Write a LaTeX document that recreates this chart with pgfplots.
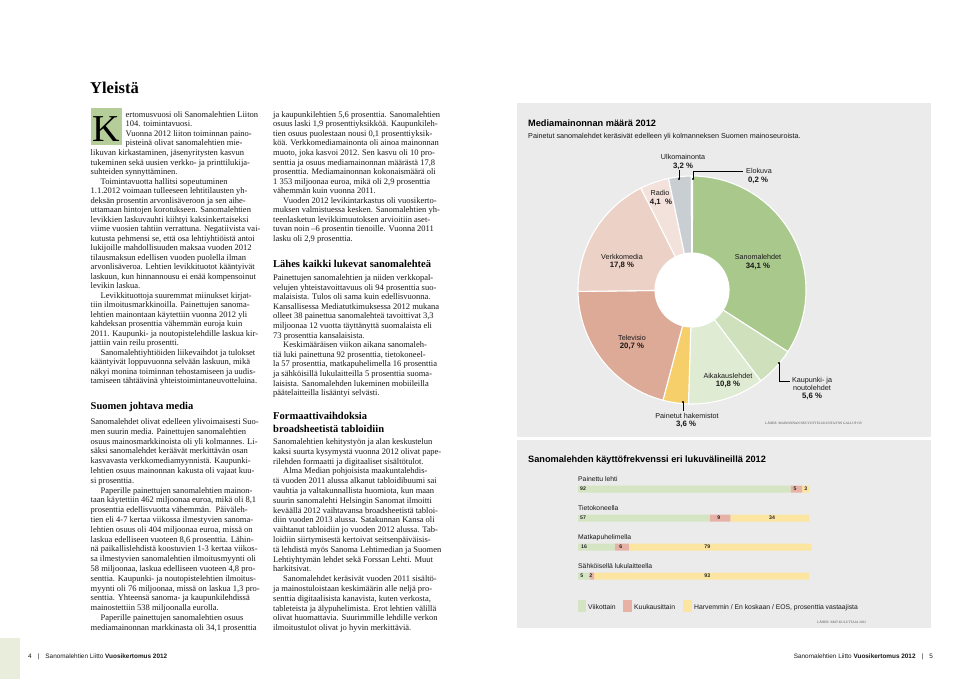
\documentclass[border=0pt]{standalone}
\usepackage{fontspec}
\setmainfont{Liberation Serif}
\newfontfamily\chartfont{Liberation Sans}
\usepackage{pgfplots}
\pgfplotsset{compat=1.18}
\usepackage{pgfplotstable}

\definecolor{panel}{HTML}{EBEBEB}
\definecolor{txt}{HTML}{1A1718}
\definecolor{dropgreen}{HTML}{B5CD98}
\definecolor{deco}{HTML}{E9EEDC}
\definecolor{c0}{HTML}{A9C98C}
\definecolor{c1}{HTML}{CFE0BD}
\definecolor{c2}{HTML}{E0EBD3}
\definecolor{c3}{HTML}{F6CF6B}
\definecolor{c4}{HTML}{DCAA97}
\definecolor{c5}{HTML}{ECD2C6}
\definecolor{c6}{HTML}{F3E2DC}
\definecolor{c7}{HTML}{C9CED3}
\definecolor{c8}{HTML}{666666}
\definecolor{colW}{HTML}{D5E5C3}
\definecolor{colM}{HTML}{E7B1A6}
\definecolor{colY}{HTML}{FBE5A0}

\pgfplotstableread{
label value
Sanomalehdet 34.1
Kaupunki 5.6
Aikakauslehdet 10.8
Hakemistot 3.6
Televisio 20.7
Verkkomedia 17.8
Radio 4.1
Ulkomainonta 3.2
Elokuva 0.2
}\mediadata

\pgfplotstableread{
y vk kk hv
1 92 5 3
2 57 9 34
3 16 6 79
4 5 2 93
}\freqdata

\pgfplotstableread{
x y lab
2.2 1 92
94 1 5
98.6 1 3
2.2 2 57
61 2 9
84 2 34
2.6 3 16
18.5 3 6
56 3 79
1.6 4 5
5.5 4 2
56 4 93
}\freqlabels

\newcommand\bodyfont{\fontsize{8.5}{9.5}\selectfont}
\newcommand\headfont{\fontsize{10.5}{12}\selectfont\bfseries}
\newcommand\tb[4]{\foreach \t [count=\i from 0] in {#4}{\node[anchor=base west, inner sep=0pt, font=\bodyfont, text=txt] at (#1pt,{-(#2+\i*#3)*1pt}) {\t};}}
\newcommand\lab[3]{\node[anchor=center, inner sep=0pt, font=\chartfont\fontsize{7.2}{8}\selectfont, text=txt] at (#1pt,-#2pt) {#3};}
\newcommand\pct[3]{\node[anchor=center, inner sep=0pt, font=\chartfont\bfseries\fontsize{7.8}{8}\selectfont, text=txt] at (#1pt,-#2pt) {#3};}

\begin{document}
\begin{tikzpicture}
\path[use as bounding box] (0,0) rectangle (960pt,-679pt);
\fill[white] (0,0) rectangle (960pt,-679pt);
\fill[deco] (0,-638pt) rectangle (20pt,-679pt);

% ---------- chart panels
\fill[panel] (517pt,-103pt) rectangle (931pt,-437pt);
\fill[panel] (517pt,-440pt) rectangle (931pt,-628pt);

% ---------- donut angles from the table
\def\cum{0}
\foreach \k in {0,...,8}{%
  \pgfplotstablegetelem{\k}{value}\of\mediadata
  \pgfmathsetmacro\tmpb{\cum+3.6*\pgfplotsretval}%
  \expandafter\xdef\csname sa\k\endcsname{\cum}%
  \expandafter\xdef\csname sb\k\endcsname{\tmpb}%
  \xdef\cum{\tmpb}%
}

\begin{axis}[hide axis, x=1pt, y=1pt, xmin=-120, xmax=120, ymin=-120, ymax=120,
  anchor=center, at={(692pt,-290pt)}, clip=false]
\pgfplotsinvokeforeach{0,...,8}{%
  \edef\doslice{\noexpand\filldraw[fill=c#1, draw=white, line width=1.1pt, shift={(axis cs:0,0)}]
   ({90-\csname sa#1\endcsname}:114pt) arc[start angle={90-\csname sa#1\endcsname}, end angle={90-\csname sb#1\endcsname}, radius=114pt]
   -- ({90-\csname sb#1\endcsname}:37pt) arc[start angle={90-\csname sb#1\endcsname}, end angle={90-\csname sa#1\endcsname}, radius=37pt] -- cycle;}%
  \doslice
}
\fill[white] (axis cs:0,0) circle[radius=37pt];
\end{axis}

% donut texts
\node[anchor=base west, inner sep=0pt, font=\chartfont\bfseries\fontsize{9.2}{11}\selectfont, text=black] at (528pt,-126.5pt) {Mediamainonnan määrä 2012};
\node[anchor=base west, inner sep=0pt, font=\chartfont\fontsize{7.2}{8}\selectfont, text=txt] at (528pt,-138.5pt) {Painetut sanomalehdet keräsivät edelleen yli kolmanneksen Suomen mainoseuroista.};
\lab{683}{157}{Ulkomainonta}\pct{683}{166}{3,2 \%}
\lab{759}{171}{Elokuva}\pct{758}{180}{0,2 \%}
\lab{660}{193}{Radio}\pct{661}{202}{4,1\ \ \%}
\lab{622}{257}{Verkkomedia}\pct{622}{265}{17,8 \%}
\lab{758}{257}{Sanomalehdet}\pct{758}{266}{34,1 \%}
\lab{632}{338}{Televisio}\pct{632}{346}{20,7 \%}
\lab{728}{376}{Aikakauslehdet}\pct{728}{384}{10,8 \%}
\lab{812}{381}{Kaupunki- ja}\lab{812}{388}{noutolehdet}\pct{812}{396}{5,6 \%}
\lab{687}{416}{Painetut hakemistot}\pct{686}{424}{3,6 \%}
% leader lines
\draw[black, line width=0.5pt] (679pt,-170pt) -- (679pt,-179pt);
\fill[black] (679pt,-179pt) circle[radius=1.1pt];
\draw[black, line width=0.5pt] (693pt,-179pt) -- (693pt,-171pt) -- (743pt,-171pt);
\fill[black] (693pt,-179pt) circle[radius=1.1pt];
\draw[black, line width=0.5pt] (779pt,-363pt) -- (779pt,-381pt) -- (790pt,-381pt);
\fill[black] (779pt,-363pt) circle[radius=1.1pt];
\draw[black, line width=0.5pt] (683pt,-402pt) -- (683pt,-411pt);
\fill[black] (683pt,-402pt) circle[radius=1.1pt];
\node[anchor=west, inner sep=0pt, font=\fontsize{3.4}{4}\selectfont, text=black!70] at (765pt,-423pt) {LÄHDE: MAINONNAN NEUVOTTELUKUNTA/TNS GALLUP OY};

% ---------- bar chart
\node[anchor=base west, inner sep=0pt, font=\chartfont\bfseries\fontsize{9.2}{11}\selectfont, text=black] at (528pt,-462pt) {Sanomalehden käyttöfrekvenssi eri lukuvälineillä 2012};
\begin{axis}[hide axis, xbar stacked, bar width=7pt, x=2.31pt, y=29pt, y dir=reverse,
  xmin=0, xmax=100, ymin=0.5, ymax=4.5, enlargelimits=false, clip=false,
  anchor=north west, at={(578pt,-474.5pt)}]
\addplot[fill=colW, draw=none] table[x=vk, y=y] {\freqdata};
\addplot[fill=colM, draw=none] table[x=kk, y=y] {\freqdata};
\addplot[fill=colY, draw=none] table[x=hv, y=y] {\freqdata};
\end{axis}
\begin{axis}[hide axis, x=2.31pt, y=29pt, y dir=reverse,
  xmin=0, xmax=100, ymin=0.5, ymax=4.5, enlargelimits=false, clip=false,
  anchor=north west, at={(578pt,-474.5pt)}]
\addplot[draw=none, mark=none, nodes near coords, point meta=explicit symbolic,
  every node near coord/.append style={anchor=center, inner sep=0pt, text=black!85,
  font=\chartfont\bfseries\fontsize{5.2}{6}\selectfont}]
  table[x=x, y=y, meta=lab] {\freqlabels};
\end{axis}
\foreach \n/\yy in {Painettu lehti/481.5, Tietokoneella/510.5, Matkapuhelimella/539.5, Sähköisellä lukulaitteella/568.5}{
  \node[anchor=base west, inner sep=0pt, font=\chartfont\fontsize{6.8}{8}\selectfont, text=txt] at (578pt,-\yy pt) {\n};}
\fill[colW] (578pt,-600pt) rectangle (586pt,-612pt);
\fill[colM] (623pt,-600pt) rectangle (632pt,-612pt);
\fill[colY] (683pt,-600pt) rectangle (692pt,-612pt);
\node[anchor=base west, inner sep=0pt, font=\chartfont\fontsize{6.8}{8}\selectfont, text=txt] at (588pt,-609pt) {Viikottain};
\node[anchor=base west, inner sep=0pt, font=\chartfont\fontsize{6.8}{8}\selectfont, text=txt] at (634pt,-609pt) {Kuukausittain};
\node[anchor=base west, inner sep=0pt, font=\chartfont\fontsize{6.8}{8}\selectfont, text=txt] at (694pt,-609pt) {Harvemmin / En koskaan / EOS, prosenttia vastaajista};
\node[anchor=west, inner sep=0pt, font=\fontsize{3.4}{4}\selectfont, text=black!70] at (817pt,-622pt) {LÄHDE: KMT KULUTTAJA 2012};

% ---------- page text
\node[anchor=base west, inner sep=0pt, font=\fontsize{16.5}{18}\selectfont\bfseries, text=black] at (90pt,-93.5pt) {Yleistä};
\fill[dropgreen] (91pt,-108pt) rectangle (122pt,-145pt);

\tb{125.5}{117.5}{9.5}{{ertomusvuosi oli Sanomalehtien Liiton},{104. toimintavuosi.},{Vuonna 2012 liiton toiminnan paino-},{pisteinä olivat sanomalehtien mie-}}
\tb{90.5}{155.5}{9.5}{{likuvan kirkastaminen, jäsenyritysten kasvun},
{tukeminen sekä uusien verkko- ja printtilukija-},
{suhteiden synnyttäminen.},
{\hspace*{10pt}Toimintavuotta hallitsi sopeutuminen},
{1.1.2012 voimaan tulleeseen lehtitilausten yh-},
{deksän prosentin arvonlisäveroon ja sen aihe-},
{uttamaan hintojen korotukseen. Sanomalehtien},
{levikkien laskuvauhti kiihtyi kaksinkertaiseksi},
{viime vuosien tahtiin verrattuna. Negatiivista vai-},
{kutusta pehmensi se, että osa lehtiyhtiöistä antoi},
{lukijoille mahdollisuuden maksaa vuoden 2012},
{tilausmaksun edellisen vuoden puolella ilman},
{arvonlisäveroa. Lehtien levikkituotot kääntyivät},
{laskuun, kun hinnannousu ei enää kompensoinut},
{levikin laskua.},
{\hspace*{10pt}Levikkituottoja suuremmat miinukset kirjat-},
{tiin ilmoitusmarkkinoilla. Painettujen sanoma-},
{lehtien mainontaan käytettiin vuonna 2012 yli},
{kahdeksan prosenttia vähemmän euroja kuin},
{2011. Kaupunki- ja noutopistelehdille laskua kir-},
{jattiin vain reilu prosentti.},
{\hspace*{10pt}Sanomalehtiyhtiöiden liikevaihdot ja tulokset},
{kääntyivät loppuvuonna selvään laskuun, mikä},
{näkyi monina toiminnan tehostamiseen ja uudis-},
{tamiseen tähtäävinä yhteistoimintaneuvotteluina.}}

\node[anchor=base west, inner sep=0pt, font=\headfont, text=black] at (90.5pt,-409pt) {Suomen johtava media};
\tb{90.5}{424.5}{9.8}{{Sanomalehdet olivat edelleen ylivoimaisesti Suo-},
{men suurin media. Painettujen sanomalehtien},
{osuus mainosmarkkinoista oli yli kolmannes. Li-},
{säksi sanomalehdet keräävät merkittävän osan},
{kasvavasta verkkomediamyynnistä. Kaupunki-},
{lehtien osuus mainonnan kakusta oli vajaat kuu-},
{si prosenttia.},
{\hspace*{10pt}Paperille painettujen sanomalehtien mainon-},
{taan käytettiin 462 miljoonaa euroa, mikä oli 8,1},
{prosenttia edellisvuotta vähemmän.\ \ Päiväleh-},
{tien eli 4-7 kertaa viikossa ilmestyvien sanoma-},
{lehtien osuus oli 404 miljoonaa euroa, missä on},
{laskua edelliseen vuoteen 8,6 prosenttia. Lähin-},
{nä paikallislehdistä koostuvien 1-3 kertaa viikos-},
{sa ilmestyvien sanomalehtien ilmoitusmyynti oli},
{58 miljoonaa, laskua edelliseen vuoteen 4,8 pro-},
{senttia. Kaupunki- ja noutopistelehtien ilmoitus-},
{myynti oli 76 miljoonaa, missä on laskua 1,3 pro-},
{senttia. Yhteensä sanoma- ja kaupunkilehdissä},
{mainostettiin 538 miljoonalla eurolla.},
{\hspace*{10pt}Paperille painettujen sanomalehtien osuus},
{mediamainonnan markkinasta oli 34,1 prosenttia}}

\tb{273}{117.5}{9.5}{{ja kaupunkilehtien 5,6 prosenttia. Sanomalehtien},
{osuus laski 1,9 prosenttiyksikköä. Kaupunkileh-},
{tien osuus puolestaan nousi 0,1 prosenttiyksik-},
{köä. Verkkomediamainonta oli ainoa mainonnan},
{muoto, joka kasvoi 2012. Sen kasvu oli 10 pro-},
{senttia ja osuus mediamainonnan määrästä 17,8},
{prosenttia. Mediamainonnan kokonaismäärä oli},
{1 353 miljoonaa euroa, mikä oli 2,9 prosenttia},
{vähemmän kuin vuonna 2011.},
{\hspace*{10pt}Vuoden 2012 levikintarkastus oli vuosikerto-},
{muksen valmistuessa kesken. Sanomalehtien yh-},
{teenlasketun levikkimuutoksen arvioitiin aset-},
{tuvan noin –6 prosentin tienoille. Vuonna 2011},
{lasku oli 2,9 prosenttia.}}

\node[anchor=base west, inner sep=0pt, font=\headfont, text=black] at (273pt,-267pt) {Lähes kaikki lukevat sanomalehteä};
\tb{273}{280.5}{9.6}{{Painettujen sanomalehtien ja niiden verkkopal-},
{velujen yhteistavoittavuus oli 94 prosenttia suo-},
{malaisista. Tulos oli sama kuin edellisvuonna.},
{Kansallisessa Mediatutkimuksessa 2012 mukana},
{olleet 38 painettua sanomalehteä tavoittivat 3,3},
{miljoonaa 12 vuotta täyttänyttä suomalaista eli},
{73 prosenttia kansalaisista.},
{\hspace*{10pt}Keskimääräisen viikon aikana sanomaleh-},
{tiä luki painettuna 92 prosenttia, tietokoneel-},
{la 57 prosenttia, matkapuhelimella 16 prosenttia},
{ja sähköisillä lukulaitteilla 5 prosenttia suoma-},
{laisista. Sanomalehden lukeminen mobiileilla},
{päätelaitteilla lisääntyi selvästi.}}

\node[anchor=base west, inner sep=0pt, font=\headfont, text=black] at (273pt,-419pt) {Formaattivaihdoksia};
\node[anchor=base west, inner sep=0pt, font=\headfont, text=black] at (273pt,-432pt) {broadsheetistä tabloidiin};
\tb{273}{444.5}{9.8}{{Sanomalehtien kehitystyön ja alan keskustelun},
{kaksi suurta kysymystä vuonna 2012 olivat pape-},
{rilehden formaatti ja digitaaliset sisältötulot.},
{\hspace*{10pt}Alma Median pohjoisista maakuntalehdis-},
{tä vuoden 2011 alussa alkanut tabloidibuumi sai},
{vauhtia ja valtakunnallista huomiota, kun maan},
{suurin sanomalehti Helsingin Sanomat ilmoitti},
{keväällä 2012 vaihtavansa broadsheetistä tabloi-},
{diin vuoden 2013 alussa. Satakunnan Kansa oli},
{vaihtanut tabloidiin jo vuoden 2012 alussa. Tab-},
{loidiin siirtymisestä kertoivat seitsenpäiväisis-},
{tä lehdistä myös Sanoma Lehtimedian ja Suomen},
{Lehtiyhtymän lehdet sekä Forssan Lehti. Muut},
{harkitsivat.},
{\hspace*{10pt}Sanomalehdet keräsivät vuoden 2011 sisältö-},
{ja mainostuloistaan keskimäärin alle neljä pro-},
{senttia digitaalisista kanavista, kuten verkosta,},
{tableteista ja älypuhelimista. Erot lehtien välillä},
{olivat huomattavia. Suurimmille lehdille verkon},
{ilmoitustulot olivat jo hyvin merkittäviä.}}

% ---------- footer
\node[anchor=base west, inner sep=0pt, font=\chartfont\fontsize{6.4}{7}\selectfont, text=txt] at (28pt,-658pt) {4\hspace{6pt}|\hspace{6pt}Sanomalehtien Liitto \textbf{Vuosikertomus 2012}};
\node[anchor=base east, inner sep=0pt, font=\chartfont\fontsize{6.4}{7}\selectfont, text=txt] at (933pt,-658pt) {Sanomalehtien Liitto \textbf{Vuosikertomus 2012}\hspace{6pt}|\hspace{6pt}5};

% ---------- drop cap (drawn last)
\node[anchor=base, inner sep=0pt, font=\fontsize{38}{38}\selectfont, text=black] at (106pt,-141.5pt) {K};
\end{tikzpicture}
\end{document}
